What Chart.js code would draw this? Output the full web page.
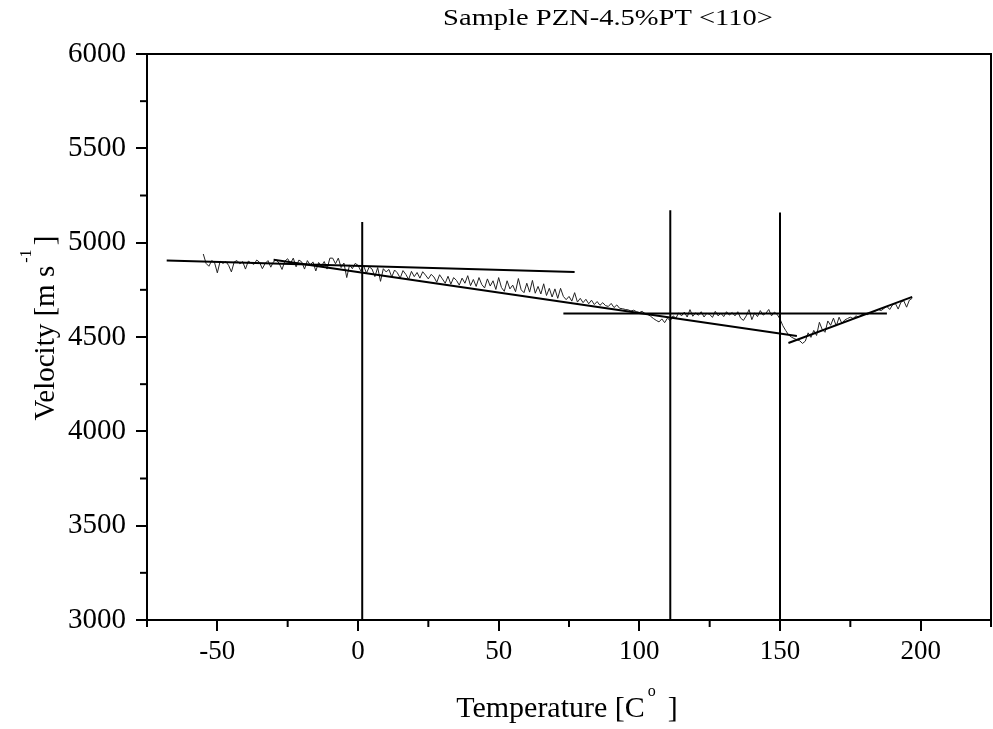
<!DOCTYPE html>
<html>
<head>
<meta charset="utf-8">
<script src="https://cdn.jsdelivr.net/npm/chart.js@4.4.0/dist/chart.umd.min.js"></script>
<style>
html, body { margin: 0; padding: 0; background: #fff; }
</style>
</head>
<body>
<canvas id="velocityChart" width="993" height="729"></canvas>
<script>
// measured run, temperature in C
var tempValues = [
    -55, -54, -53, -52, -51, -50, -49, -48, -47, -46,
    -45, -44, -43, -42, -41, -40, -39, -38, -37, -36,
    -35, -34, -33, -32, -31, -30, -29, -28, -27, -26,
    -25, -24, -23, -22, -21, -20, -19, -18, -17, -16,
    -15, -14, -13, -12, -11, -10, -9, -8, -7, -6,
    -5, -4, -3, -2, -1, 0, 1, 2, 3, 4,
    5, 6, 7, 8, 9, 10, 11, 12, 13, 14,
    15, 16, 17, 18, 19, 20, 21, 22, 23, 24,
    25, 26, 27, 28, 29, 30, 31, 32, 33, 34,
    35, 36, 37, 38, 39, 40, 41, 42, 43, 44,
    45, 46, 47, 48, 49, 50, 51, 52, 53, 54,
    55, 56, 57, 58, 59, 60, 61, 62, 63, 64,
    65, 66, 67, 68, 69, 70, 71, 72, 73, 74,
    75, 76, 77, 78, 79, 80, 81, 82, 83, 84,
    85, 86, 87, 88, 89, 90, 91, 92, 93, 94,
    95, 96, 97, 98, 99, 100, 101, 102, 103, 104,
    105, 106, 107, 108, 109, 110, 111, 112, 113, 114,
    115, 116, 117, 118, 119, 120, 121, 122, 123, 124,
    125, 126, 127, 128, 129, 130, 131, 132, 133, 134,
    135, 136, 137, 138, 139, 140, 141, 142, 143, 144,
    145, 146, 147, 148, 149, 150, 151, 152, 153, 154,
    155, 156, 157, 158, 159, 160, 161, 162, 163, 164,
    165, 166, 167, 168, 169, 170, 171, 172, 173, 174,
    175, 176, 177, 178, 179, 180, 181, 182, 183, 184,
    185, 186, 187, 188, 189, 190, 191, 192, 193, 194,
    195, 196, 197];
var velocityValues = [
    4940, 4890, 4875, 4905, 4895, 4840, 4902, 4890, 4900, 4880,
    4845, 4898, 4905, 4888, 4900, 4860, 4902, 4893, 4885, 4908,
    4896, 4862, 4890, 4905, 4870, 4900, 4908, 4890, 4858, 4902,
    4915, 4890, 4918, 4872, 4908, 4898, 4860, 4905, 4882, 4898,
    4850, 4895, 4875, 4900, 4860, 4918, 4918, 4888, 4918, 4868,
    4892, 4815, 4882, 4862, 4890, 4880, 4850, 4878, 4838, 4872,
    4860, 4820, 4868, 4795, 4862, 4845, 4858, 4818, 4855, 4840,
    4812, 4852, 4832, 4805, 4848, 4820, 4842, 4812, 4846, 4828,
    4808, 4832, 4818, 4790, 4830, 4808, 4785, 4822, 4780, 4815,
    4800, 4775, 4812, 4785, 4825, 4772, 4805, 4768, 4815, 4778,
    4760, 4808, 4770, 4798, 4752, 4815, 4762, 4742, 4798, 4755,
    4775, 4740, 4810, 4750, 4735, 4785, 4738, 4800, 4732, 4768,
    4728, 4782, 4720, 4758, 4712, 4755, 4705, 4758, 4715, 4698,
    4715, 4690, 4735, 4685, 4705, 4682, 4700, 4676, 4695, 4672,
    4688, 4668, 4682, 4666, 4662, 4678, 4656, 4670, 4652, 4650,
    4646, 4644, 4638, 4642, 4634, 4630, 4636, 4624, 4620, 4610,
    4598, 4588, 4580, 4596, 4576, 4600, 4586, 4612, 4600, 4628,
    4612, 4632, 4606, 4645, 4610, 4628, 4615, 4634, 4606, 4626,
    4620, 4604, 4636, 4612, 4626, 4608, 4634, 4616, 4630, 4612,
    4634, 4600, 4588, 4612, 4645, 4592, 4628, 4608, 4640, 4616,
    4626, 4646, 4612, 4632, 4620, 4595, 4560, 4535, 4512, 4500,
    4492, 4486, 4480, 4466, 4478, 4522, 4498, 4535, 4508, 4578,
    4540, 4525, 4585, 4562, 4600, 4558, 4605, 4572, 4590, 4598,
    4605, 4598, 4612, 4606, 4618, 4622, 4618, 4628, 4632, 4638,
    4645, 4640, 4652, 4662, 4646, 4670, 4678, 4648, 4685, 4692,
    4658, 4696, 4705];

// fitted straight lines (end points)
var lowFitT = [-68, 77];
var lowFitV = [4906, 4844];
var slopeFitT = [-30, 156];
var slopeFitV = [4910, 4505];
var plateauFitT = [73, 188];
var plateauFitV = [4624, 4624];
var riseFitT = [153, 197];
var riseFitV = [4468, 4713];

// transition markers
var transitionT = [1.5, 111, 150];
var transitionTop = [5110, 5172, 5160];

var xMajorTicks = [-50, 0, 50, 100, 150, 200];
var xMinorTicks = [-75, -25, 25, 75, 125, 175, 225];
var yMajorTicks = [3000, 3500, 4000, 4500, 5000, 5500, 6000];
var yMinorTicks = [3250, 3750, 4250, 4750, 5250, 5750];

var chartTitle = "Sample PZN-4.5%PT <110>";

function toPoints(xs, ys) {
    var pts = [];
    for (let i = 0; i < xs.length; i++) {
        pts.push({ x: xs[i], y: ys[i] });
    }
    return pts;
}

function lineSet(xs, ys, color, width) {
    return {
        data: toPoints(xs, ys),
        showLine: true,
        borderColor: color,
        borderWidth: width,
        pointRadius: 0,
        fill: false,
        tension: 0
    };
}

var datasets = [
    lineSet(lowFitT, lowFitV, '#000', 2),
    lineSet(slopeFitT, slopeFitV, '#000', 2),
    lineSet(plateauFitT, plateauFitV, '#000', 2),
    lineSet(riseFitT, riseFitV, '#000', 2)
];
for (let i = 0; i < transitionT.length; i++) {
    datasets.push(lineSet([transitionT[i], transitionT[i]], [3000, transitionTop[i]], '#000', 2));
}
datasets.push(lineSet(tempValues, velocityValues, '#222', 1));

var serif = "'Liberation Serif', 'Times New Roman', serif";

function drawRich(ctx, cx, cy, angle, main1, sup, main2, size, supSize, rise) {
    ctx.save();
    ctx.translate(cx, cy);
    ctx.rotate(angle);
    ctx.fillStyle = '#000';
    ctx.textBaseline = 'middle';
    ctx.textAlign = 'left';
    ctx.font = size + 'px ' + serif;
    var w1 = ctx.measureText(main1).width;
    var w2 = ctx.measureText(main2).width;
    ctx.font = supSize + 'px ' + serif;
    var ws = ctx.measureText(sup).width;
    var start = -(w1 + ws + w2) / 2;
    ctx.font = size + 'px ' + serif;
    ctx.fillText(main1, start, 0);
    ctx.fillText(main2, start + w1 + ws, 0);
    ctx.font = supSize + 'px ' + serif;
    ctx.fillText(sup, start + w1 + 3, -rise);
    ctx.restore();
}

var decorations = {
    id: 'decorations',
    afterDraw(chart) {
        var ctx = chart.ctx;
        var x = chart.scales.x;
        var y = chart.scales.y;
        var area = chart.chartArea;
        ctx.save();
        ctx.strokeStyle = '#000';
        ctx.lineWidth = 2;
        xMinorTicks.forEach(function (v) {
            var px = x.getPixelForValue(v);
            ctx.beginPath();
            ctx.moveTo(px, area.bottom);
            ctx.lineTo(px, area.bottom + 7);
            ctx.stroke();
        });
        yMinorTicks.forEach(function (v) {
            var py = y.getPixelForValue(v);
            ctx.beginPath();
            ctx.moveTo(area.left, py);
            ctx.lineTo(area.left - 7, py);
            ctx.stroke();
        });
        // title, slightly widened like the original print
        ctx.fillStyle = '#000';
        ctx.font = '23px ' + serif;
        ctx.textAlign = 'center';
        ctx.textBaseline = 'middle';
        ctx.translate(608, 19);
        ctx.scale(1.24, 1);
        ctx.fillText(chartTitle, 0, 0);
        ctx.restore();
        drawRich(ctx, 567, 709, 0, 'Temperature [C', 'o', '  ]', 30, 16, 17);
        drawRich(ctx, 46, 328, -Math.PI / 2, 'Velocity [m s', '-1', ' ]', 29, 16, 19);
    }
};

var ctx = document.getElementById('velocityChart').getContext('2d');
var velocityChart = new Chart(ctx, {
    type: 'scatter',
    data: { datasets: datasets },
    options: {
        responsive: false,
        animation: false,
        layout: { padding: 0 },
        plugins: {
            legend: { display: false },
            tooltip: { enabled: false }
        },
        scales: {
            x: {
                type: 'linear',
                position: 'bottom',
                min: -75,
                max: 225,
                afterBuildTicks: function (s) { s.ticks = xMajorTicks.map(v => ({ value: v })); },
                afterFit: function (s) { s.height = 109; },
                ticks: {
                    color: '#000', padding: 5, maxRotation: 0,
                    font: { family: serif, size: 27 },
                    callback: function (v) { return String(v); }
                },
                grid: { drawOnChartArea: false, tickLength: 11, color: '#000', lineWidth: 2 },
                border: { display: true, color: '#000', width: 2 }
            },
            y: {
                type: 'linear',
                position: 'left',
                min: 3000,
                max: 6000,
                afterBuildTicks: function (s) { s.ticks = yMajorTicks.map(v => ({ value: v })); },
                afterFit: function (s) { s.width = 147; },
                ticks: {
                    color: '#000', padding: 10,
                    font: { family: serif, size: 29 },
                    callback: function (v) { return String(v); }
                },
                grid: { drawOnChartArea: false, tickLength: 11, color: '#000', lineWidth: 2 },
                border: { display: true, color: '#000', width: 2 }
            },
            x2: {
                type: 'linear',
                position: 'top',
                afterBuildTicks: function (s) { s.ticks = []; },
                afterFit: function (s) { s.height = 54; },
                ticks: { display: false },
                grid: { drawOnChartArea: false, drawTicks: false },
                border: { display: true, color: '#000', width: 2 }
            },
            y2: {
                type: 'linear',
                position: 'right',
                afterBuildTicks: function (s) { s.ticks = []; },
                afterFit: function (s) { s.width = 2; },
                ticks: { display: false },
                grid: { drawOnChartArea: false, drawTicks: false },
                border: { display: true, color: '#000', width: 2 }
            }
        }
    },
    plugins: [decorations]
});
</script>
</body>
</html>
